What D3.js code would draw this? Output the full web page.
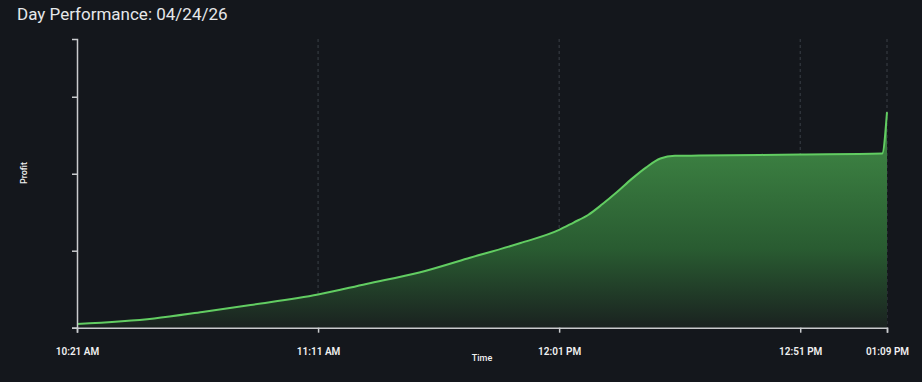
<!DOCTYPE html>
<html>
<head>
<meta charset="utf-8">
<script src="https://cdn.jsdelivr.net/npm/d3@7"></script>
<style>
  html, body { margin: 0; padding: 0; background: #14171c; }
  svg { display: block; }
</style>
</head>
<body>
<svg id="chart" width="922" height="382"></svg>
<script>
// ---- data ----
const title = "Day Performance: 04/24/26";
const times = ["10:21","10:37","10:47","10:57","11:11","11:21","11:32","11:42","11:53","12:01",
               "12:04","12:07","12:10","12:13","12:16","12:19","12:22","12:25","12:30","12:51","13:08","13:09"];
const profits = [4.8, 12, 20.4, 29.5, 43, 56.8, 71.7, 89.9, 110, 127,
                 136.6, 146.4, 160.6, 176.2, 193, 208, 219.7, 223.2, 223.6, 225, 226.2, 280];
const xTickLabels = ["10:21","11:11","12:01","12:51","13:09"];
const yTickValues = [0, 100, 200, 300];
const yMax = 375;

// ---- setup ----
const W = 922, H = 382;
const margin = { top: 39, right: 35, bottom: 54.3, left: 77 };
const svg = d3.select("#chart");
svg.append("rect").attr("width", W).attr("height", H).attr("fill", "#14171c");

const parse = t => d3.timeParse("%Y-%m-%d %H:%M")("2026-04-24 " + t);
const data = times.map((t, i) => ({ t: parse(t), v: profits[i] }));

const x = d3.scaleTime()
  .domain([parse(times[0]), parse(times[times.length - 1])])
  .range([margin.left, W - margin.right]);
const y = d3.scaleLinear().domain([0, yMax]).range([H - margin.bottom, margin.top]);

// gradient
const defs = svg.append("defs");
const grad = defs.append("linearGradient").attr("id", "fillGrad")
  .attr("gradientUnits", "userSpaceOnUse")
  .attr("x1", 0).attr("x2", 0).attr("y1", y(226)).attr("y2", y(0));
grad.append("stop").attr("offset", "0%").attr("stop-color", "#3b7f41");
grad.append("stop").attr("offset", "55%").attr("stop-color", "#295b31");
grad.append("stop").attr("offset", "100%").attr("stop-color", "#1a2220");

// title
svg.append("text").attr("x", 17).attr("y", 20)
  .attr("font-family", "Roboto, sans-serif").attr("font-size", 17)
  .attr("fill", "#e6e8ea").text(title);

// grid lines
const gridTicks = xTickLabels.slice(1).map(parse);
svg.append("g").selectAll("line").data(gridTicks).join("line")
  .attr("x1", d => x(d)).attr("x2", d => x(d))
  .attr("y1", margin.top).attr("y2", H - margin.bottom)
  .attr("stroke", "#3b4047").attr("stroke-width", 1).attr("stroke-dasharray", "3,3");

// area + line
const curve = d3.curveMonotoneX;
svg.append("path").datum(data)
  .attr("d", d3.area().x(d => x(d.t)).y0(y(0)).y1(d => y(d.v)).curve(curve))
  .attr("fill", "url(#fillGrad)");
svg.append("path").datum(data)
  .attr("d", d3.line().x(d => x(d.t)).y(d => y(d.v)).curve(curve))
  .attr("fill", "none").attr("stroke", "#62cd62").attr("stroke-width", 2);

// axes
const axisColor = "#c9cbcd";
const xAxis = svg.append("g").attr("transform", `translate(0,${H - margin.bottom})`)
  .call(d3.axisBottom(x).tickValues(xTickLabels.map(parse))
    .tickFormat(d3.timeFormat("%I:%M %p")).tickSize(5).tickSizeOuter(5));
const yAxis = svg.append("g").attr("transform", `translate(${margin.left},0)`)
  .call(d3.axisLeft(y).tickValues(yTickValues).tickFormat("").tickSize(5).tickSizeOuter(5));
[xAxis, yAxis].forEach(g => {
  g.select(".domain").attr("stroke", axisColor).attr("stroke-width", 1.5);
  g.selectAll(".tick line").attr("stroke", axisColor).attr("stroke-width", 1.5);
});
xAxis.selectAll(".tick text").attr("fill", "#f0f0f0")
  .attr("font-family", "Roboto, sans-serif").attr("font-size", 10).attr("font-weight", 600)
  .attr("dy", null).attr("y", 27);

// axis labels
svg.append("text").attr("x", (margin.left + W - margin.right) / 2).attr("y", 361)
  .attr("text-anchor", "middle").attr("fill", "#f0f0f0")
  .attr("font-family", "Roboto, sans-serif").attr("font-size", 9).attr("font-weight", 500)
  .text("Time");
svg.append("text").attr("transform", "translate(27,173) rotate(-90)")
  .attr("text-anchor", "middle").attr("fill", "#f0f0f0")
  .attr("font-family", "Roboto, sans-serif").attr("font-size", 9).attr("font-weight", 500)
  .text("Profit");
</script>
</body>
</html>
